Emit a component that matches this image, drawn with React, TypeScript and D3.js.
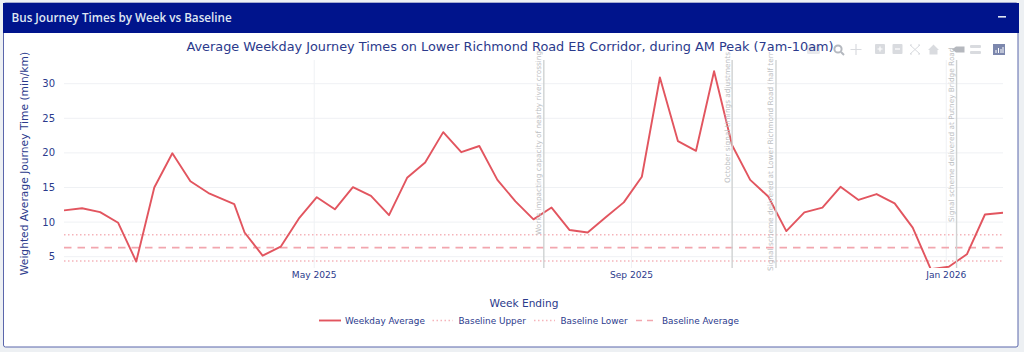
import React from "react";
import * as d3 from "d3";

const weekEnding = ["2025-01-24","2025-01-31","2025-02-07","2025-02-14","2025-02-21","2025-02-28","2025-03-07","2025-03-14","2025-03-21","2025-03-31","2025-04-04","2025-04-11","2025-04-18","2025-04-25","2025-05-02","2025-05-09","2025-05-16","2025-05-23","2025-05-30","2025-06-06","2025-06-13","2025-06-20","2025-06-27","2025-07-04","2025-07-11","2025-07-18","2025-07-25","2025-08-01","2025-08-08","2025-08-15","2025-08-22","2025-08-29","2025-09-05","2025-09-12","2025-09-19","2025-09-26","2025-10-03","2025-10-10","2025-10-17","2025-10-24","2025-10-31","2025-11-07","2025-11-14","2025-11-21","2025-11-28","2025-12-05","2025-12-12","2025-12-19","2025-12-26","2026-01-02","2026-01-09","2026-01-16","2026-01-23"];
const weekdayAverage = [11.7,12.0,11.45,9.9,4.3,15.0,19.95,15.9,14.2,12.6,8.5,5.15,6.45,10.5,13.6,11.85,15.05,13.8,11.0,16.4,18.6,23.0,20.1,21.0,16.1,13.0,10.4,12.1,8.85,8.5,10.7,12.85,16.55,30.9,21.7,20.3,31.8,21.1,16.1,13.7,8.7,11.4,12.1,15.1,13.2,14.05,12.7,9.2,3.2,3.55,5.35,11.1,11.35];
const baselineUpper = 8.18;
const baselineAverage = 6.3;
const baselineLower = 4.38;
const yTicks = [5,10,15,20,25,30];
const xTicks = [["2025-05-01","May 2025"],["2025-09-01","Sep 2025"],["2026-01-01","Jan 2026"]] as const;
const eventDates = ["2025-07-29","2025-10-10","2025-10-27","2026-01-05"];
const eventLabels = [
  "Works impacting capacity of nearby river crossing",
  "October signal timings adjustments",
  "Signal scheme delivered at Lower Richmond Road (half term)",
  "Signal scheme delivered at Putney Bridge Road",
];
const eventBottoms = [235, 183, 271, 222];

const NAVY = "#2b3a8c";
const RED = "#e2555f";
const PINK = "#f2a6ae";
const PINK_DOT = "#f5b4ba";
const FONT = "'DejaVu Sans', Verdana, sans-serif";

const parse = (s: string) => new Date(s + "T00:00:00Z");
const W = 1024, H = 352;
const L = 64, R = 1003, T = 60, B = 268;

const x = d3.scaleUtc().domain([parse("2025-01-24"), parse("2026-01-23")]).range([L, R]);
const y = d3.scaleLinear().domain([5, 30]).range([256.7, 83.7]);
const line = d3.line<number>().x((_, i) => x(parse(weekEnding[i]))).y((d) => y(d));

function Modebar() {
  const c = "#d9dbdf";
  return (
    <g>
      <g fill={c}>
        <rect x={807} y={45} width={13} height={9} rx={1.5} fillOpacity={0.6} />
        <circle cx={838} cy={49} r={3.6} fill="none" stroke="#b4b8bf" strokeWidth={2} />
        <line x1={841} y1={52} x2={844} y2={55} stroke="#b4b8bf" strokeWidth={2} />
        <path d="M856 44v11M850.5 49.5h11" stroke={c} strokeWidth={1.2} />
        <rect x={875} y={44} width={10} height={10} rx={1} />
        <path d="M877.5 49h5M880 46.5v5" stroke="#fff" strokeWidth={1.2} />
        <rect x={892.5} y={44} width={10} height={10} rx={1} />
        <path d="M895 49h5" stroke="#fff" strokeWidth={1.2} />
        <path d="M910 45l10 9M920 45l-10 9M910 45h2M918 45h2M910 54h2M918 54h2" stroke={c} strokeWidth={1} />
        <path d="M928 50l5.5-5.5 5.5 5.5h-1.5v4.5h-8v-4.5z" />
        <path d="M952 49.5l4-3h8.5v6h-8.5z" fill="#b5b8be" />
        <rect x={970} y={45} width={11} height={3} rx={1} />
        <rect x={970} y={51} width={11} height={3} rx={1} />
      </g>
      <rect x={993} y={44} width={12} height={11} fill="#7c87ad" />
      <path d="M996 53v-3M998.5 53v-5M1001 53v-4M1003 53v-6" stroke="#fff" strokeWidth={1} />
    </g>
  );
}

export default function App() {
  const legend = [
    { x1: 319, x2: 341, tx: 345, label: "Weekday Average", color: RED, dash: undefined, w: 1.9 },
    { x1: 432.5, x2: 453, tx: 458.5, label: "Baseline Upper", color: PINK_DOT, dash: "1.5 2.5", w: 1.5 },
    { x1: 534, x2: 555, tx: 560.5, label: "Baseline Lower", color: PINK_DOT, dash: "1.5 2.5", w: 1.5 },
    { x1: 636, x2: 656, tx: 662, label: "Baseline Average", color: PINK, dash: "6 5", w: 1.7 },
  ];
  const baselines = [
    { v: baselineUpper, dash: "1.5 2.5", w: 1.5, c: PINK_DOT },
    { v: baselineLower, dash: "1.5 2.5", w: 1.5, c: PINK_DOT },
    { v: baselineAverage, dash: "7.5 6", w: 1.7, c: PINK },
  ];
  return (
    <svg width={W} height={H} style={{ position: "absolute", left: 0, top: 0 }} fontFamily={FONT}>
      <defs>
        <clipPath id="plot"><rect x={L} y={T - 2} width={R - L} height={B - T + 2} /></clipPath>
        <clipPath id="ann"><rect x={L} y={52} width={R - L} height={H - 52} /></clipPath>
      </defs>
      <rect width={W} height={H} fill="#edf0f3" />
      <rect x={3.5} y={3} width={1014.5} height={344} rx={2} fill="#fff" stroke="#5a66ab" strokeWidth={1} />
      <rect x={3} y={3} width={1016} height={30} fill="#00148c" />
      <text x={11.5} y={22} fill="#dfe6f2" fontFamily="'Open Sans', sans-serif" fontSize={11.7} fontWeight={600}>
        Bus Journey Times by Week vs Baseline
      </text>
      <rect x={998} y={16} width={8} height={1.6} fill="#dfe6f2" />

      <g stroke="#eff1f4" strokeWidth={1}>
        {yTicks.map((t) => <line key={t} x1={L} x2={R} y1={y(t)} y2={y(t)} />)}
        {xTicks.map(([d]) => <line key={d} x1={x(parse(d))} x2={x(parse(d))} y1={T} y2={B} />)}
      </g>

      <g clipPath="url(#plot)">
        {baselines.map((b) => (
          <line key={b.v} x1={L} x2={R} y1={y(b.v)} y2={y(b.v)} stroke={b.c} strokeWidth={b.w} strokeDasharray={b.dash} />
        ))}
        <path d={line(weekdayAverage) ?? ""} fill="none" stroke={RED} strokeWidth={1.9} strokeLinejoin="round" />
      </g>

      <Modebar />

      {eventDates.map((d, i) => {
        const ex = x(parse(d));
        return (
          <g key={d} clipPath={i === 2 ? "url(#ann)" : undefined}>
            <line x1={ex} x2={ex} y1={T} y2={B} stroke="#cfd2d2" strokeWidth={1.4} />
            <text
              transform={`translate(${ex - 2.5},${eventBottoms[i]}) rotate(-90)`}
              fill="#bcbec2"
              fontSize={7.35}
            >
              {eventLabels[i]}
            </text>
          </g>
        );
      })}

      <g fill={NAVY}>
        {yTicks.map((t) => <text key={t} x={55} y={y(t) + 3.5} fontSize={10} textAnchor="end">{t}</text>)}
        {xTicks.map(([d, s]) => <text key={d} x={x(parse(d))} y={274.5} dy="0.35em" fontSize={9.1} textAnchor="middle">{s}</text>)}
      </g>

      <text x={524} y={307} fill={NAVY} fontSize={10.6} textAnchor="middle">Week Ending</text>
      <text transform="translate(28,163.5) rotate(-90)" fill={NAVY} fontSize={10.7} textAnchor="middle">
        Weighted Average Journey Time (min/km)
      </text>
      <text x={510} y={50.5} fill={NAVY} fontSize={12.85} textAnchor="middle">
        Average Weekday Journey Times on Lower Richmond Road EB Corridor, during AM Peak (7am-10am)
      </text>

      <g fontSize={8.9} fill={NAVY}>
        {legend.map((l) => (
          <g key={l.label}>
            <line x1={l.x1} x2={l.x2} y1={320.5} y2={320.5} stroke={l.color} strokeWidth={l.w} strokeDasharray={l.dash} />
            <text x={l.tx} y={324}>{l.label}</text>
          </g>
        ))}
      </g>
    </svg>
  );
}
